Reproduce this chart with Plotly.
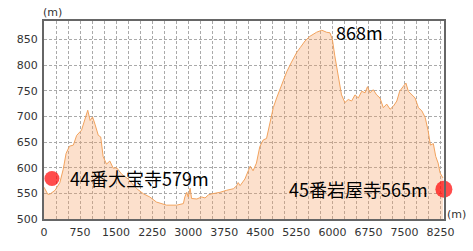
import plotly.graph_objects as go

# distance (m) and elevation (m) read from the profile
dist = [0, 20, 80, 130, 230, 330, 400, 460, 530, 610,
        680, 780, 850, 910, 960, 1010, 1060, 1130, 1180, 1230,
        1300, 1370, 1440, 1510, 1620, 1750, 1930, 2070, 2200, 2340,
        2550, 2760, 2900, 2930, 2970, 3000, 3040, 3070, 3180, 3280,
        3350, 3420, 3490, 3660, 3800, 3940, 4010, 4040, 4080, 4180,
        4250, 4290, 4350, 4420, 4490, 4560, 4630, 4700, 4770, 4840,
        4940, 5050, 5150, 5260, 5330, 5430, 5530, 5670, 5780, 5880,
        5950, 6000, 6050, 6120, 6190, 6260, 6330, 6400, 6470, 6540,
        6610, 6680, 6730, 6780, 6850, 6920, 6990, 7060, 7130, 7200,
        7270, 7340, 7400, 7470, 7530, 7580, 7650, 7720, 7790, 7860,
        7930, 7990, 8040, 8100, 8150, 8200, 8240, 8280, 8300]
elev = [562, 559, 548, 549, 556, 571, 597, 628, 642, 644,
        663, 673, 692, 712, 692, 699, 685, 663, 660, 622,
        607, 613, 599, 600, 587, 578, 559, 549, 543, 533,
        527, 527, 530, 543, 552, 543, 560, 540, 539, 543,
        541, 547, 549, 552, 556, 559, 565, 571, 565, 578,
        594, 603, 594, 609, 641, 654, 657, 685, 717, 736,
        761, 787, 806, 825, 834, 847, 856, 864, 868, 864,
        863, 850, 818, 778, 742, 727, 733, 730, 742, 736,
        749, 746, 758, 746, 752, 742, 736, 717, 724, 714,
        720, 730, 749, 758, 765, 749, 742, 736, 717, 711,
        698, 673, 644, 647, 622, 609, 590, 584, 580]

# temples (start / end points)
temple_names = ["44番大宝寺579m", "45番岩屋寺565m"]
temple_dist = [165, 8320]
temple_elev = [579, 558]
peak_label = "868m"
unit_label = "(m)"

x_grid = list(range(0, 8251, 250))
x_text = [str(v) if v % 750 == 0 else "" for v in x_grid]
y_ticks = list(range(500, 851, 50))

tick_font = dict(family="DejaVu Sans", size=11, color="#333333")
ann_font = dict(family="Noto Sans CJK JP", size=18, color="#000000")

fig = go.Figure()
fig.add_trace(go.Scatter(
    x=dist, y=elev, mode="lines", fill="tozeroy",
    line=dict(color="#F2A35E", width=1),
    fillcolor="rgba(245,160,95,0.32)",
    hoverinfo="skip", showlegend=False,
))
fig.add_trace(go.Scatter(
    x=temple_dist, y=temple_elev, mode="markers",
    marker=dict(color="#FF0000", size=[15, 17], line=dict(width=0)),
    cliponaxis=False, showlegend=False, hoverinfo="skip",
))

annotations = [
    dict(x=505, y=579, xref="x", yref="y", text=temple_names[0], showarrow=False,
         xanchor="left", yanchor="middle", font=ann_font),
    dict(x=8029, y=559, xref="x", yref="y", text=temple_names[1], showarrow=False,
         xanchor="right", yanchor="middle", font=ann_font),
    dict(x=6573, y=865, xref="x", yref="y", text=peak_label, showarrow=False,
         xanchor="center", yanchor="middle", font=ann_font),
    dict(x=0.02, y=1.044, xref="paper", yref="paper", text=unit_label,
         showarrow=False, font=tick_font, xanchor="center", yanchor="middle"),
    dict(x=1.03, y=0.025, xref="paper", yref="paper", text=unit_label,
         showarrow=False, font=tick_font, xanchor="center", yanchor="middle"),
]

fig.update_layout(
    width=473, height=251,
    margin=dict(l=44, r=29, t=21, b=27),
    paper_bgcolor="white", plot_bgcolor="white",
    annotations=annotations,
)

fig.update_xaxes(
    range=[0, 8322], tickvals=x_grid, ticktext=x_text,
    showgrid=True, gridcolor="#AAAAAA", gridwidth=1, griddash="3px,2px",
    showline=True, linecolor="#666666", linewidth=2, mirror=True,
    ticks="", tickfont=tick_font, zeroline=False, ticklabelstandoff=2,
)
fig.update_yaxes(
    range=[500, 886], tickvals=y_ticks,
    showgrid=True, gridcolor="#AAAAAA", gridwidth=1, griddash="3px,2px",
    showline=True, linecolor="#666666", linewidth=2, mirror=True,
    ticks="", tickfont=tick_font, zeroline=False, ticklabelstandoff=2,
)

fig.write_html("out.html")
